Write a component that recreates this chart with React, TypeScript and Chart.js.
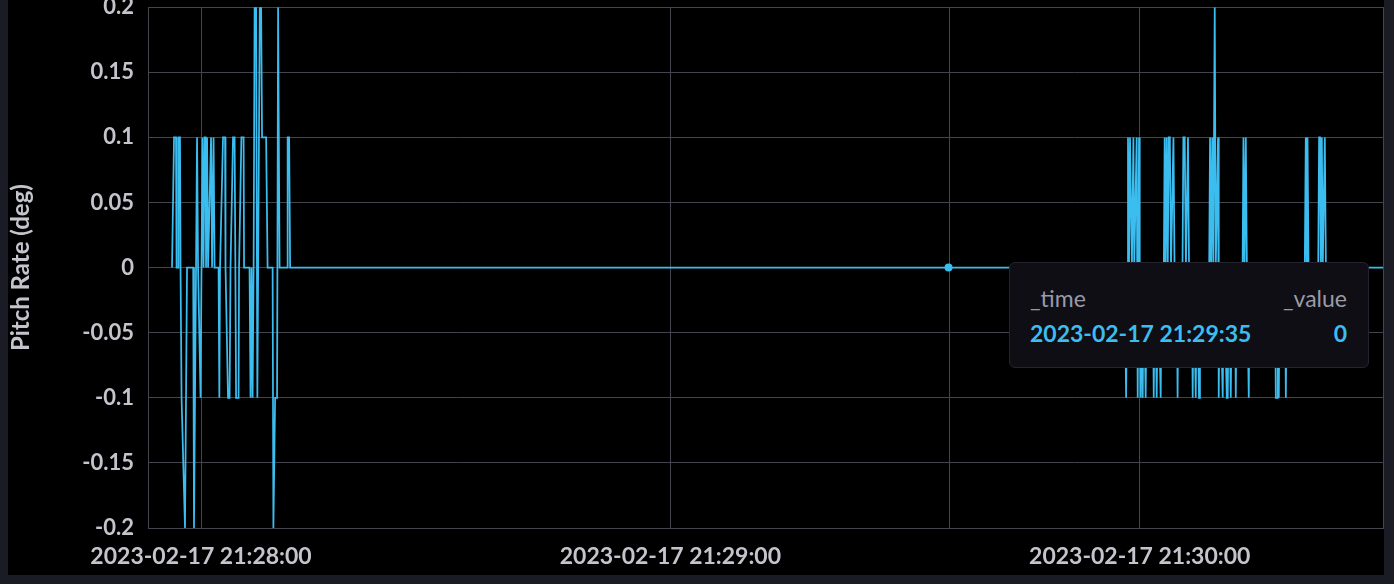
import { useEffect, useRef } from 'react';
import { Chart, registerables } from 'chart.js';

Chart.register(...registerables);

// seconds relative to 2023-02-17 21:28:00
const X_MIN = -6.78;
const X_MAX = 151.1;
const X_TICKS = [0, 60, 120];
const X_TICK_LABELS = ['2023-02-17 21:28:00', '2023-02-17 21:29:00', '2023-02-17 21:30:00'];

const Y_TICKS = [-0.2, -0.15, -0.1, -0.05, 0, 0.05, 0.1, 0.15, 0.2];
const Y_TICK_LABELS = ['-0.2', '-0.15', '-0.1', '-0.05', '0', '0.05', '0.1', '0.15', '0.2'];

const Y_TITLE = 'Pitch Rate (deg)';

const TIMES = [
  -3.71, -3.45, -3.2, -3.13, -2.94, -2.88, -2.69, -2.62, -2.49, -2.05, -1.79, -1.41, -1.0, -0.9, -0.64, -0.51, -0.38,
  -0.06, 0.06, 0.19, 0.32, 0.45, 0.58, 0.64, 0.77, 0.9, 1.28, 1.41, 1.6, 1.73, 2.24, 2.34, 2.43, 2.81, 3.07, 3.13,
  3.45, 3.65, 3.77, 4.09, 4.29, 4.39, 4.48, 4.8, 4.86, 5.16, 5.44, 5.5, 6.2, 6.33, 6.46, 6.59, 6.72, 6.85, 7.04,
  7.2, 7.51, 7.68, 7.8, 8.32, 8.51, 9.15, 9.25, 9.47, 9.72, 9.85, 10.04, 11.0, 11.07, 11.26, 11.39,
  95.56,
  118.07, 118.26, 118.4, 118.5, 118.63, 118.76, 118.85, 119.0, 119.19, 119.3, 119.61, 119.74, 119.91, 120.0,
  120.12, 120.25, 120.38, 120.5, 120.76, 120.9, 121.68, 121.79, 121.95, 122.17, 122.35, 122.68, 122.8, 123.08,
  123.19, 123.3, 123.45, 123.58, 123.71, 123.85, 124.0, 124.31, 124.45, 124.73, 124.84, 124.95, 125.47, 125.58,
  125.75, 125.9, 126.17, 126.3, 126.66, 126.77, 126.9, 127.16, 127.3, 127.58, 127.7, 128.88, 128.99, 129.12,
  129.27, 129.4, 129.59, 129.72, 130.01, 130.1, 130.25, 130.61, 130.75, 131.13, 131.25, 131.4, 131.64, 131.8,
  132.17, 132.28, 132.4, 133.15, 133.26, 133.4, 133.56, 133.7, 133.94, 134.05, 137.28, 137.4, 137.55, 137.65,
  137.78, 137.9, 138.57, 138.68, 138.8, 141.1, 141.23, 141.35, 141.45, 141.58, 142.82, 142.93, 143.05, 143.15,
  143.28, 143.4, 143.66, 143.8, 151.1,
];

const VALUES = [
  0, 0.1, 0.1, 0, 0, 0.1, 0.1, 0, -0.1, -0.2, 0, 0, 0, -0.2, 0, 0.1, 0,
  -0.1, 0, 0.1, 0, 0.1, 0.1, 0, 0.1, 0, 0.1, 0, 0.1, 0, 0, -0.1, 0, 0.1, 0.1, 0,
  -0.1, -0.1, 0, 0.1, 0.1, 0, -0.1, -0.1, 0, 0.1, 0.1, 0, 0, -0.1, 0, -0.1, 0, 0.2, 0.2,
  -0.1, 0.2, 0.2, 0.1, 0.1, 0, 0, -0.2, -0.1, -0.1, 0.2, 0, 0, 0.1, 0.1, 0,
  0,
  0, -0.1, 0, 0.1, 0, 0.1, 0.1, 0, 0.1, 0, 0.1, -0.1, 0.1, 0,
  -0.1, 0, -0.1, 0, -0.1, 0, 0, -0.1, 0, -0.1, 0, -0.1, 0, 0,
  0.1, 0, 0.1, 0, 0.1, 0.1, 0, 0.1, 0, 0, -0.1, 0, 0, 0.1,
  0.1, 0, 0.1, 0, 0, -0.1, 0, -0.1, 0, -0.1, 0, 0, 0.1, 0,
  0.1, 0, 0.2, 0, 0.1, -0.1, 0, -0.1, 0, -0.1, -0.1, 0, -0.1, 0,
  0, -0.1, 0, 0, 0.1, 0, 0.1, 0, -0.1, 0, 0, -0.1, -0.1, 0,
  -0.1, 0, 0, -0.1, 0, 0, 0.1, 0, 0.1, 0, 0, 0.1, 0.1, 0,
  0.1, 0, 0.1, 0, 0,
];

const HOVER_TIME = 95.56;
const HOVER_LABEL = '2023-02-17 21:29:35';
const HOVER_VALUE = '0';

const LINE_COLOR = '#3cbdf0';
const GRID_COLOR = '#44444f';
const TEXT_COLOR = '#c4c4cc';
const FONT = 'Lato, "Open Sans", sans-serif';

export default function App() {
  const canvasRef = useRef<HTMLCanvasElement | null>(null);

  useEffect(() => {
    if (!canvasRef.current) return;
    const hoverIndex = TIMES.indexOf(HOVER_TIME);
    const frame = {
      id: 'frame',
      beforeDatasetsDraw(chart: any) {
        const { ctx, chartArea, scales } = chart;
        const x = Math.round(scales.x.getPixelForValue(HOVER_TIME)) + 0.5;
        ctx.save();
        ctx.strokeStyle = GRID_COLOR;
        ctx.lineWidth = 1;
        ctx.beginPath();
        ctx.moveTo(x, chartArea.top);
        ctx.lineTo(x, chartArea.bottom);
        ctx.stroke();
        ctx.strokeRect(
          Math.round(chartArea.left) + 0.5,
          Math.round(chartArea.top) + 0.5,
          Math.round(chartArea.right - chartArea.left),
          Math.round(chartArea.bottom - chartArea.top)
        );
        ctx.restore();
      },
    };
    const chart = new Chart(canvasRef.current, {
      type: 'line',
      data: {
        datasets: [
          {
            data: TIMES.map((t, i) => ({ x: t, y: VALUES[i] })),
            borderColor: LINE_COLOR,
            backgroundColor: LINE_COLOR,
            borderWidth: 1.75,
            tension: 0,
            pointRadius: (c: any) => (c.dataIndex === hoverIndex ? 4 : 0),
            pointBorderWidth: 0,
            pointHoverRadius: 4,
          },
        ],
      },
      options: {
        animation: false,
        responsive: false,
        events: [],
        layout: { padding: { top: 1, left: 0, right: 1, bottom: 0 } },
        plugins: { legend: { display: false }, tooltip: { enabled: false } },
        scales: {
          x: {
            type: 'linear',
            min: X_MIN,
            max: X_MAX,
            afterBuildTicks: (s: any) => {
              s.ticks = X_TICKS.map((v) => ({ value: v }));
            },
            afterFit: (s: any) => {
              s.height = 47;
            },
            ticks: {
              autoSkip: false,
              maxRotation: 0,
              padding: 15,
              color: TEXT_COLOR,
              font: { family: FONT, size: 23, weight: 'bold' },
              callback: (v: any) => X_TICK_LABELS[X_TICKS.indexOf(Number(v))] ?? '',
            },
            grid: { color: GRID_COLOR, drawTicks: false, lineWidth: 1 },
            border: { color: GRID_COLOR },
          },
          y: {
            type: 'linear',
            min: -0.2,
            max: 0.2,
            afterBuildTicks: (s: any) => {
              s.ticks = Y_TICKS.map((v) => ({ value: v }));
            },
            afterFit: (s: any) => {
              s.width = 140;
            },
            ticks: {
              padding: 14,
              color: TEXT_COLOR,
              font: { family: FONT, size: 22, weight: 'bold' },
              callback: (v: any) => {
                const i = Y_TICKS.findIndex((t) => Math.abs(t - Number(v)) < 1e-9);
                return i >= 0 ? Y_TICK_LABELS[i] : '';
              },
            },
            grid: { color: GRID_COLOR, drawTicks: false, lineWidth: 1 },
            border: { color: GRID_COLOR },
            title: {
              display: true,
              text: Y_TITLE,
              color: TEXT_COLOR,
              font: { family: FONT, size: 24, weight: 'bold' },
              padding: { top: -1, bottom: 0 },
            },
          },
        },
      },
      plugins: [frame],
    } as any);
    return () => chart.destroy();
  }, []);

  return (
    <div style={{ position: 'fixed', inset: 0, background: '#1b1b26', overflow: 'hidden' }}>
      <div
        style={{
          position: 'absolute',
          left: 8,
          top: 0,
          width: 1376,
          height: 575,
          background: '#000',
          overflow: 'hidden',
        }}
      >
        <canvas
          ref={canvasRef}
          width={1376}
          height={595}
          style={{ position: 'absolute', left: 0, top: -20, width: 1376, height: 595 }}
        />
      </div>
      <div
        style={{
          position: 'absolute',
          left: 1009,
          top: 262,
          width: 360,
          height: 106,
          boxSizing: 'border-box',
          background: '#0e0e14',
          border: '1px solid #25242e',
          borderRadius: 6,
          fontFamily: FONT,
        }}
      >
        <div
          style={{
            position: 'absolute',
            left: 20,
            right: 21,
            top: 22,
            height: 26,
            lineHeight: '26px',
            display: 'flex',
            justifyContent: 'space-between',
            color: '#9b9aa8',
            fontSize: 23,
          }}
        >
          <span>_time</span>
          <span>_value</span>
        </div>
        <div
          style={{
            position: 'absolute',
            left: 20,
            right: 21,
            top: 57,
            height: 26,
            lineHeight: '26px',
            display: 'flex',
            justifyContent: 'space-between',
            color: LINE_COLOR,
            fontSize: 23,
            fontWeight: 'bold',
          }}
        >
          <span>{HOVER_LABEL}</span>
          <span>{HOVER_VALUE}</span>
        </div>
      </div>
    </div>
  );
}
